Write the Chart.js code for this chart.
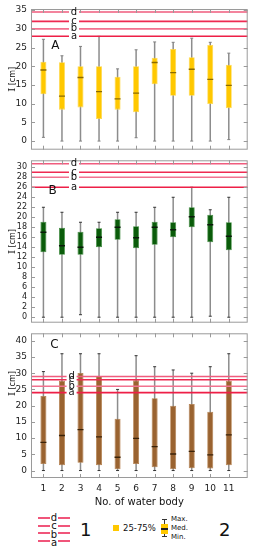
<!DOCTYPE html>
<html>
<head>
<meta charset="utf-8">
<script src="https://cdn.jsdelivr.net/npm/chart.js@4"></script>
<style>
  body { margin: 0; background: #fff; font-family: "DejaVu Sans", sans-serif; color: #111; }
  #wrap { position: relative; width: 253px; height: 550px; overflow: hidden; }
  canvas { position: absolute; left: 0; }
  .lg { position: absolute; white-space: nowrap; line-height: 1; }
  .ln { position: absolute; height: 2px; background: #f0557a; }
</style>
</head>
<body>
<div id="wrap">
  <canvas id="chartA" width="253" height="155" style="top:0"></canvas>
  <canvas id="chartB" width="253" height="173" style="top:155px"></canvas>
  <canvas id="chartC" width="253" height="184" style="top:328px"></canvas>
  <div id="legend"></div>
</div>
<script>
const waterBodies = [1, 2, 3, 4, 5, 6, 7, 8, 9, 10, 11];
const limitLabels = ["a", "b", "c", "d"];

// A
const minA = [1, 0, 0, 0, 0, 0.9, 0, 0, 0, 0, 0.4];
const q1A  = [12.5, 8.4, 9, 5.9, 8.4, 7.7, 15.2, 12.1, 12.1, 9.9, 8.8];
const medA = [19, 12, 17, 13.2, 11.3, 12.8, 21, 18.3, 19.2, 16.5, 14.9];
const q3A  = [21.2, 21.1, 20, 20, 17.2, 20, 22.3, 24.6, 22.4, 25.7, 20.4];
const maxA = [27.2, 22.8, 25.3, 28, 19.3, 24.4, 26.5, 26.4, 27.5, 26.4, 23.5];
const limitsA = [28, 30, 32, 34.5];
const ticksA = [0, 5, 10, 15, 20, 25, 30, 35];

// B
const minB = [0, 0, 0.5, 0, 0, 0, 0, 0, 0, 0.2, 0];
const q1B  = [13, 12.5, 12.5, 14, 15.5, 13.8, 14.5, 16, 18, 15, 13.4];
const medB = [17, 14.3, 14, 16, 18, 15.9, 18, 17.5, 20.1, 18.5, 16.2];
const q3B  = [19.1, 17.9, 17.1, 17.8, 19.6, 18.2, 19.1, 19, 22, 20.5, 19];
const maxB = [22, 21, 19, 19, 21, 21, 22, 24, 26, 21.5, 24];
const limitsB = [26, 28, 29, 30.7];
const ticksB = [0, 2, 4, 6, 8, 10, 12, 14, 16, 18, 20, 22, 24, 26, 28, 30];

// C
const minC = [0, 0, 0, 0, 0, 0, 0, 0, 0, 0, 0];
const q1C  = [2, 1.6, 2.4, 1.6, 0.4, 2, 1, 0.4, 0.7, 0.6, 1.6];
const medC = [8.7, 10.8, 12.6, 10.4, 4.1, 9.9, 7.4, 5.1, 5.9, 4.8, 11];
const q3C  = [23, 27.7, 30.1, 29.1, 16, 27.8, 22.3, 20, 20.5, 18.1, 27.7];
const maxC = [30.5, 36, 36, 36, 25, 35.4, 32, 31, 30, 32, 36];
const limitsC = [24, 26, 28, 29];
const ticksC = [0, 5, 10, 15, 20, 25, 30, 35, 40];

const limitColors = ["#ee1f47", "#f2728f", "#ee2b52", "#f05c7e"];
const xMin = 0.33, xMax = 12.02;

// rahmen, innenliegende ticks, buchstaben
const framePlugin = {
  id: "frame",
  afterDatasetsDraw(chart) {
    const { ctx, chartArea: a, scales: { x, y } } = chart;
    const p = chart.options.plugins.frame;
    ctx.save();
    ctx.strokeStyle = "#9a9a9a";
    ctx.lineWidth = 1;
    ctx.strokeRect(a.left + 0.5, a.top + 0.5, a.right - a.left - 1, a.bottom - a.top - 1);
    ctx.beginPath();
    p.yTicks.forEach(function (v) {
      const py = Math.round(y.getPixelForValue(v)) + 0.5;
      ctx.moveTo(a.left, py); ctx.lineTo(a.left + 4, py);
      ctx.moveTo(a.right - 4, py); ctx.lineTo(a.right, py);
    });
    waterBodies.forEach(function (v) {
      const px = Math.round(x.getPixelForValue(v)) + 0.5;
      ctx.moveTo(px, a.top); ctx.lineTo(px, a.top + 4);
      ctx.moveTo(px, a.bottom - 4); ctx.lineTo(px, a.bottom);
    });
    ctx.stroke();

    ctx.fillStyle = "#111";
    ctx.textAlign = "center";
    ctx.textBaseline = "middle";
    ctx.font = '10px "DejaVu Sans"';
    const lx = x.getPixelForValue((p.gap[0] + p.gap[1]) / 2);
    p.limits.forEach(function (v, i) {
      ctx.fillText(limitLabels[i], lx, y.getPixelForValue(v));
    });
    ctx.font = '12px "DejaVu Sans"';
    ctx.fillText(p.panel, x.getPixelForValue(p.panelAt[0]), y.getPixelForValue(p.panelAt[1]));

    // y-titel "I [cm]"
    const cy = (a.top + a.bottom) / 2 + p.titleShift;
    ctx.translate(11, cy);
    ctx.rotate(-Math.PI / 2);
    ctx.textAlign = "left";
    ctx.textBaseline = "alphabetic";
    ctx.font = '10px "DejaVu Serif"';
    const w1 = ctx.measureText("I").width;
    ctx.font = '8px "DejaVu Sans"';
    const w2 = ctx.measureText(" [cm]").width;
    const sx = -(w1 + w2) / 2;
    ctx.font = '10px "DejaVu Serif"';
    ctx.fillText("I", sx, 3.5);
    ctx.font = '8px "DejaVu Sans"';
    ctx.fillText(" [cm]", sx + w1, 3.5);
    ctx.restore();
  }
};

function pts(vals) {
  return waterBodies.map(function (w, i) { return { x: w, y: vals[i] }; });
}
function ranges(lo, hi) {
  return waterBodies.map(function (w, i) { return { x: w, y: [lo[i], hi[i]] }; });
}

function makePanel(id, s) {
  const datasets = [];
  s.limits.forEach(function (v, i) {
    datasets.push({
      type: "line",
      data: [{ x: xMin, y: v }, { x: s.gap[0], y: v }, { x: (s.gap[0] + s.gap[1]) / 2, y: null },
             { x: s.gap[1], y: v }, { x: xMax, y: v }],
      borderColor: limitColors[i],
      borderWidth: 1.6,
      pointRadius: 0,
      spanGaps: false,
      order: 0
    });
  });
  datasets.push({
    type: "line", data: pts(s.med), showLine: false,
    pointStyle: "line", pointRadius: 3, pointBorderWidth: 1.3,
    pointBorderColor: s.medColor, order: 1
  });
  datasets.push({
    type: "line", data: pts(s.max).concat(pts(s.min)), showLine: false,
    pointStyle: "line", pointRadius: 1.5, pointBorderWidth: 1,
    pointBorderColor: s.capColor, order: 1
  });
  datasets.push({
    type: "bar", data: ranges(s.q1, s.q3), grouped: false, maxBarThickness: 6,
    backgroundColor: s.fill, borderColor: s.border, borderWidth: 0.8, borderSkipped: false, order: 2
  });
  datasets.push({
    type: "bar", data: ranges(s.min, s.max), grouped: false, maxBarThickness: 1.5,
    backgroundColor: s.whisker, borderWidth: 0, order: 3
  });

  return new Chart(document.getElementById(id), {
    type: "bar",
    data: { datasets: datasets },
    options: {
      responsive: false,
      animation: false,
      devicePixelRatio: 1,
      events: [],
      layout: { padding: s.padding },
      plugins: {
        legend: { display: false },
        tooltip: { enabled: false },
        frame: { yTicks: s.ticks, limits: s.limits, gap: s.gap, panel: s.panel, panelAt: s.panelAt, titleShift: s.titleShift }
      },
      scales: {
        x: {
          type: "linear", min: xMin, max: xMax, offset: false,
          display: s.showX,
          grid: { display: false, drawTicks: false },
          border: { display: false },
          ticks: { font: { family: "DejaVu Sans", size: 9 }, color: "#222", padding: 5, maxRotation: 0, autoSkip: false },
          title: { display: true, text: "No. of water body", font: { family: "DejaVu Sans", size: 10 }, color: "#111", padding: { top: 0, bottom: 4 } },
          afterBuildTicks: function (sc) { sc.ticks = waterBodies.map(function (v) { return { value: v }; }); },
          afterFit: function (sc) { sc.height = s.showX ? 34 : 0; sc.paddingLeft = 0; sc.paddingRight = 0; }
        },
        y: {
          min: s.yMin, max: s.yMax, beginAtZero: false,
          grid: { display: false, drawTicks: false },
          border: { display: false },
          ticks: { font: { family: "DejaVu Sans", size: s.tickSize }, color: "#222", padding: 4, autoSkip: false },
          afterBuildTicks: function (sc) { sc.ticks = s.ticks.map(function (v) { return { value: v }; }); },
          afterFit: function (sc) { sc.width = 31; sc.paddingTop = 0; sc.paddingBottom = 0; }
        }
      }
    },
    plugins: [framePlugin]
  });
}

makePanel("chartA", {
  min: minA, q1: q1A, med: medA, q3: q3A, max: maxA, limits: limitsA, ticks: ticksA, tickSize: 9,
  yMin: -2.3, yMax: 35.3, gap: [2.38, 2.92], panel: "A", panelAt: [1.65, 25.5], titleShift: 0,
  fill: "#ffc800", border: "#ffd94d", medColor: "#8a6a00", capColor: "#808080", whisker: "#8c8c8c",
  padding: { top: 9, bottom: 3, left: 0, right: 5 }, showX: false
});
makePanel("chartB", {
  min: minB, q1: q1B, med: medB, q3: q3B, max: maxB, limits: limitsB, ticks: ticksB, tickSize: 8,
  yMin: -1.1, yMax: 31.4, gap: [2.38, 2.92], panel: "B", panelAt: [1.5, 25.2], titleShift: 0,
  fill: "#0a5c0a", border: "#3f8c3f", medColor: "#0a1a0a", capColor: "#333", whisker: "#8c8c8c",
  padding: { top: 2, bottom: 3, left: 0, right: 5 }, showX: false
});
makePanel("chartC", {
  min: minC, q1: q1C, med: medC, q3: q3C, max: maxC, limits: limitsC, ticks: ticksC, tickSize: 9,
  yMin: -2.3, yMax: 42.3, gap: [2.25, 2.79], panel: "C", panelAt: [1.6, 38.6], titleShift: -22,
  fill: "#9a6330", border: "#b27c48", medColor: "#3a2208", capColor: "#333", whisker: "#8c8c8c",
  padding: { top: 3, bottom: 0, left: 0, right: 5 }, showX: true
});

// legende unten
(function () {
  const lg = document.getElementById("legend");
  let html = "";
  const ys = [541, 533, 526, 518];
  limitLabels.forEach(function (l, i) {
    html += '<div class="ln" style="left:38px;width:12px;top:' + (ys[i] - 1) + 'px"></div>';
    html += '<div class="ln" style="left:58px;width:12px;top:' + (ys[i] - 1) + 'px"></div>';
    html += '<div class="lg" style="left:50px;width:8px;text-align:center;font-size:10px;top:' + (ys[i] - 5 + (i < 2 ? 2 : 0)) + 'px">' + l + '</div>';
  });
  html += '<div class="lg" style="left:80px;top:521px;font-size:18px">1</div>';
  html += '<div style="position:absolute;left:113px;top:525px;width:6px;height:6px;background:#ffc800"></div>';
  html += '<div class="lg" style="left:123px;top:524px;font-size:8.5px">25-75%</div>';
  html += '<div style="position:absolute;left:164px;top:519px;width:1px;height:18px;background:#333"></div>';
  html += '<div style="position:absolute;left:162px;top:519px;width:5px;height:1px;background:#333"></div>';
  html += '<div style="position:absolute;left:162px;top:536px;width:5px;height:1px;background:#333"></div>';
  html += '<div style="position:absolute;left:161px;top:524px;width:7px;height:10px;background:#ffc800"></div>';
  html += '<div style="position:absolute;left:161px;top:528px;width:7px;height:1.5px;background:#222"></div>';
  html += '<div class="lg" style="left:171px;top:516px;font-size:7px">Max.</div>';
  html += '<div class="lg" style="left:171px;top:525px;font-size:7px">Med.</div>';
  html += '<div class="lg" style="left:171px;top:534px;font-size:7px">Min.</div>';
  html += '<div class="lg" style="left:219px;top:521px;font-size:18px">2</div>';
  lg.innerHTML = html;
})();
</script>
</body>
</html>
